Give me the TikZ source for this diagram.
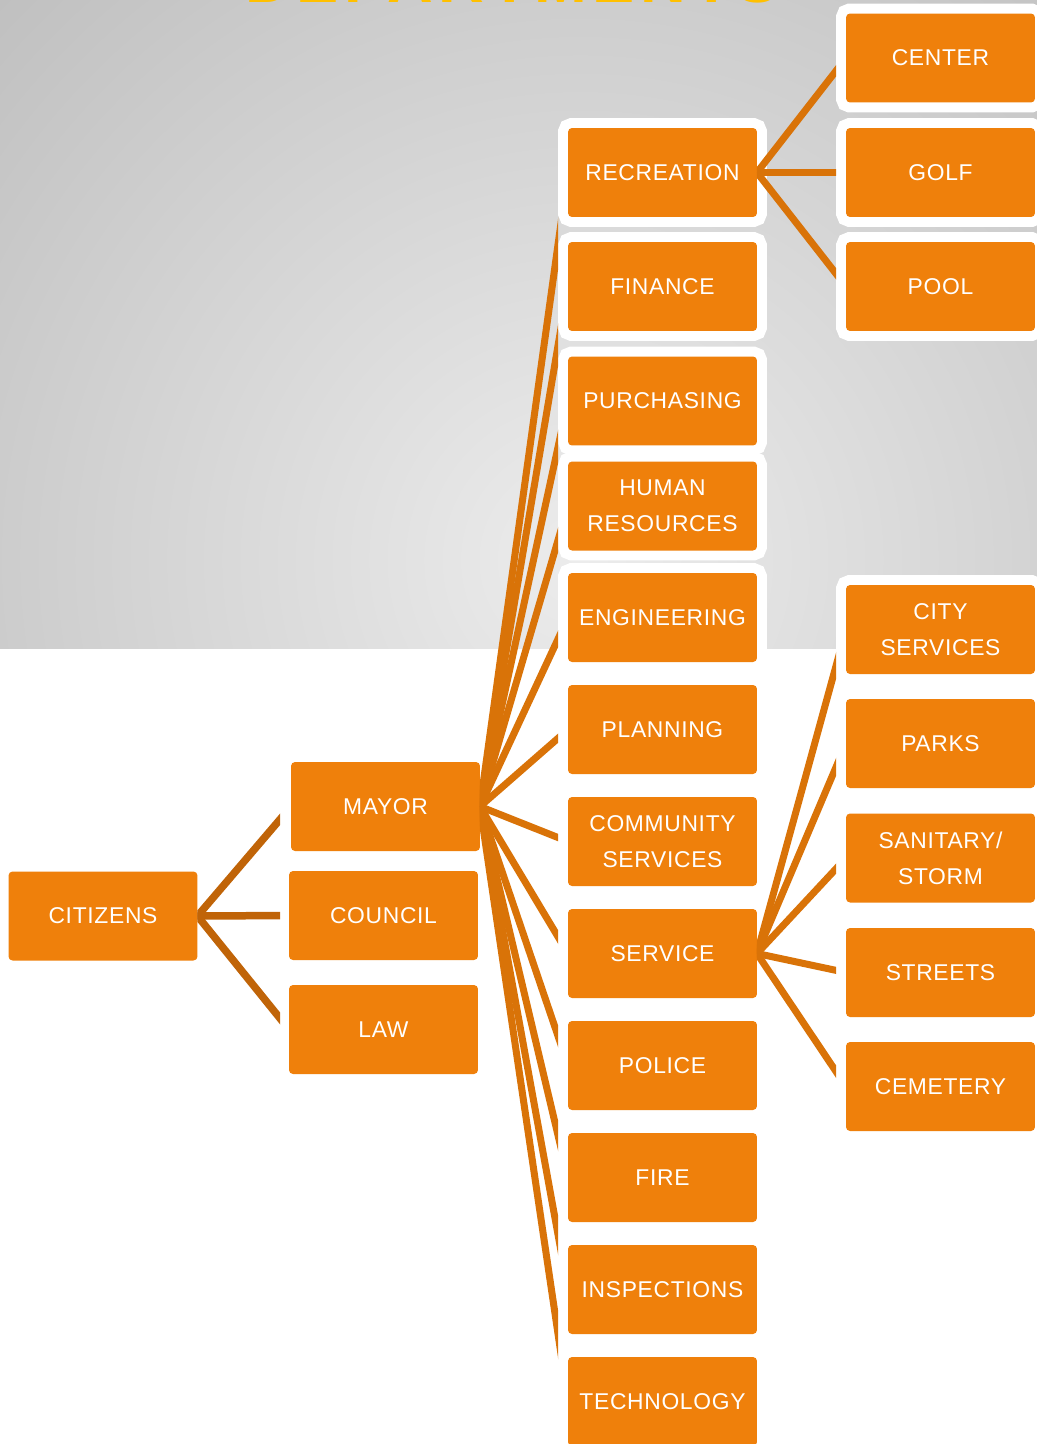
\documentclass[tikz,border=0pt]{standalone}
\usepackage{fontspec}
\setmainfont{Liberation Sans}
\newfontfamily\boxfont[LetterSpace=3]{Liberation Sans}
\newfontfamily\titlefont[LetterSpace=9]{Liberation Sans}

\definecolor{boxorange}{RGB}{239,128,11}
\definecolor{leadorange}{RGB}{217,115,8}
\definecolor{leaddark}{RGB}{192,100,8}
\definecolor{titlegold}{RGB}{255,192,0}
\definecolor{bglight}{RGB}{236,236,236}
\definecolor{bgdark}{RGB}{187,187,187}

\tikzset{
  dept/.style={rectangle, rounded corners=0.08cm, fill=boxorange, text=white,
    minimum width=3.78cm, minimum height=1.78cm, inner sep=0pt, outer sep=0pt,
    align=center, font=\boxfont\fontsize{13}{20.5}\selectfont,
    preaction={draw=white, line width=0.4cm}},
  lead/.style={draw=leadorange, line width=0.14cm},
  leadcit/.style={draw=leaddark, line width=0.15cm},
}

\begin{document}
\begin{tikzpicture}[x=0.02cm, y=-0.02cm]
		\useasboundingbox (0,0) rectangle (1037,1444);
		
		% ---- Gray backdrop (upper part only) ----
		\begin{scope}
			\clip (0,0) rectangle (1037,648);
			\fill[bgdark] (0,0) rectangle (1037,648);
			\shade[inner color=bglight, outer color=bgdark] (580,560) circle (18cm);
		\end{scope}
		
		% ---- Title (mostly cut off at the top) ----
		\node[anchor=base, inner sep=0pt, text=titlegold,
		      font=\titlefont\bfseries\fontsize{36}{36}\selectfont] (title) at (512,2) {DEPARTMENTS};
		
		% ---- Left columns ----
		\node[dept] (citizens) at (103,916)     {CITIZENS};
		\node[dept] (mayor)    at (385.5,806.5) {MAYOR};
		\node[dept] (council)  at (383.5,915.5) {COUNCIL};
		\node[dept] (law)      at (383.5,1029.5) {LAW};
		
		% ---- Departments (x = 662.5) ----
		\node[dept] (recreation)  at (662.5,172.5)  {RECREATION};
		\node[dept] (finance)     at (662.5,286.5)  {FINANCE};
		\node[dept] (purchasing)  at (662.5,401)    {PURCHASING};
		\node[dept] (hr)          at (662.5,506)    {HUMAN\\RESOURCES};
		\node[dept] (engineering) at (662.5,617.5)  {ENGINEERING};
		\node[dept] (planning)    at (662.5,729.5)  {PLANNING};
		\node[dept] (community)   at (662.5,841.5)  {COMMUNITY\\SERVICES};
		\node[dept] (service)     at (662.5,953.5)  {SERVICE};
		\node[dept] (police)      at (662.5,1065.5) {POLICE};
		\node[dept] (fire)        at (662.5,1177.5) {FIRE};
		\node[dept] (inspections) at (662.5,1289.5) {INSPECTIONS};
		\node[dept] (technology)  at (662.5,1401.5) {TECHNOLOGY};
		
		% ---- Sub-units (x = 940.5) ----
		\node[dept] (center)   at (940.5,58)     {CENTER};
		\node[dept] (golf)     at (940.5,172.5)  {GOLF};
		\node[dept] (pool)     at (940.5,286.5)  {POOL};
		\node[dept] (cityserv) at (940.5,629.5)  {CITY\\SERVICES};
		\node[dept] (parks)    at (940.5,743.5)  {PARKS};
		\node[dept] (sanitary) at (940.5,858)    {SANITARY/\\STORM};
		\node[dept] (streets)  at (940.5,972.5)  {STREETS};
		\node[dept] (cemetery) at (940.5,1086.5) {CEMETERY};
		
		% ---- Fans (clipped so they stop at the white frames) ----
		\begin{scope}
			\clip (citizens.east |- 0,0) rectangle (280,1444);
			\foreach \c in {mayor,council,law}
				\draw[leadcit] (citizens.east) -- (\c.west);
		\end{scope}
		
		\begin{scope}
			\clip (mayor.east |- 0,0) rectangle (558,1444);
			\foreach \c in {recreation,finance,purchasing,hr,engineering,planning,
			                community,service,police,fire,inspections,technology}
				\draw[lead] (mayor.east) -- (\c.west);
		\end{scope}
		
		\begin{scope}
			\clip (recreation.east |- 0,0) rectangle (836,1444);
			\foreach \c in {center,golf,pool}
				\draw[lead] (recreation.east) -- (\c.west);
			\foreach \c in {cityserv,parks,sanitary,streets,cemetery}
				\draw[lead] (service.east) -- (\c.west);
		\end{scope}
		
	\end{tikzpicture}
\end{document}
